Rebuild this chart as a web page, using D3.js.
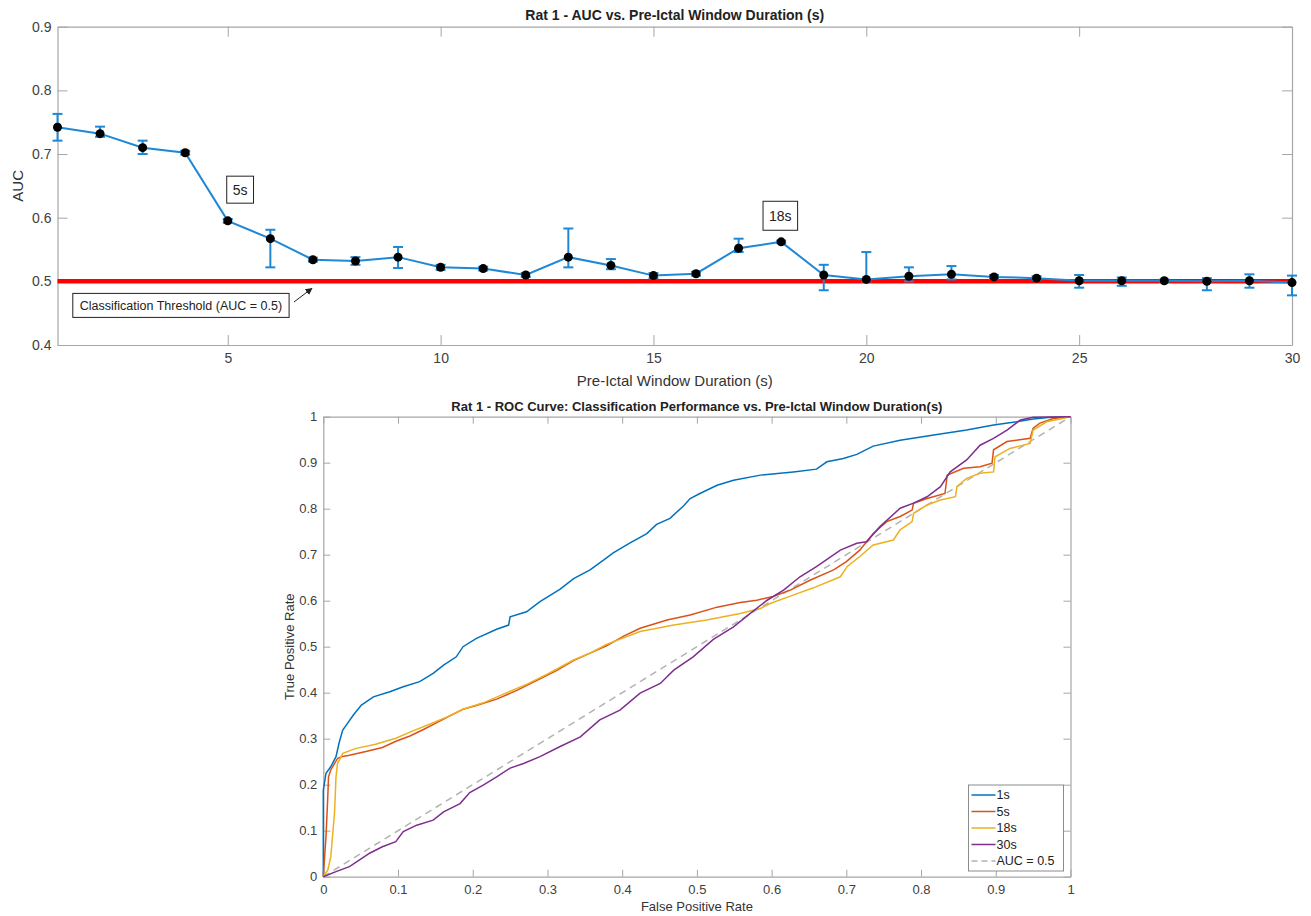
<!DOCTYPE html>
<html>
<head>
<meta charset="utf-8">
<script src="https://cdn.jsdelivr.net/npm/d3@7"></script>
<style>
  body { margin: 0; background: #fff; }
  text { font-family: "Liberation Sans", Arial, Helvetica, sans-serif; }
  .axis path, .axis line { stroke: #a6a6a6; }
  .axis text { fill: #404040; }
</style>
</head>
<body>
<div id="chart"></div>
<script>
// ---- top panel data: AUC per pre-ictal window ----
const windows = d3.range(1, 31);
const aucMean = [0.742, 0.732, 0.710, 0.702, 0.595, 0.567, 0.534, 0.532, 0.538, 0.522,
                 0.520, 0.510, 0.538, 0.525, 0.509, 0.512, 0.552, 0.562, 0.510, 0.503,
                 0.508, 0.511, 0.507, 0.505, 0.501, 0.501, 0.501, 0.500, 0.501, 0.498];
const aucLow  = [0.721, 0.727, 0.700, 0.699, 0.592, 0.522, 0.531, 0.526, 0.521, 0.518,
                 0.517, 0.507, 0.522, 0.519, 0.505, 0.509, 0.546, 0.560, 0.486, 0.500,
                 0.500, 0.503, 0.504, 0.502, 0.490, 0.493, 0.499, 0.486, 0.490, 0.478];
const aucHigh = [0.763, 0.743, 0.721, 0.705, 0.598, 0.581, 0.537, 0.538, 0.554, 0.526,
                 0.523, 0.513, 0.583, 0.535, 0.513, 0.515, 0.567, 0.564, 0.526, 0.546,
                 0.522, 0.524, 0.510, 0.508, 0.510, 0.506, 0.503, 0.505, 0.511, 0.509];
const topXTicks = [5, 10, 15, 20, 25, 30];
const topYTicks = [0.4, 0.5, 0.6, 0.7, 0.8, 0.9];
const threshold = 0.5;

// ---- bottom panel data: ROC curves [FPR, TPR] ----
const roc1s = [[0,0],[0,0.188],[0.0036,0.225],[0.01,0.239],[0.017,0.261],[0.021,0.29],[0.026,0.319],
  [0.031,0.33],[0.04,0.351],[0.051,0.373],[0.067,0.391],[0.089,0.402],[0.107,0.413],[0.129,0.424],
  [0.147,0.442],[0.161,0.46],[0.178,0.478],[0.187,0.5],[0.205,0.518],[0.232,0.538],[0.248,0.547],
  [0.25,0.565],[0.272,0.576],[0.29,0.598],[0.317,0.625],[0.335,0.648],[0.357,0.667],[0.375,0.688],
  [0.388,0.704],[0.41,0.725],[0.433,0.746],[0.446,0.766],[0.464,0.779],[0.482,0.806],[0.491,0.822],
  [0.504,0.833],[0.527,0.851],[0.549,0.862],[0.585,0.873],[0.629,0.880],[0.66,0.886],[0.674,0.902],
  [0.696,0.909],[0.714,0.918],[0.736,0.936],[0.772,0.949],[0.817,0.96],[0.861,0.971],[0.897,0.982],
  [0.928,0.989],[0.95,0.995],[0.97,0.998],[1,1]];
const roc5s = [[0,0],[0.0036,0.087],[0.006,0.174],[0.007,0.217],[0.01,0.232],[0.015,0.246],[0.019,0.257],
  [0.024,0.261],[0.035,0.264],[0.057,0.272],[0.079,0.281],[0.098,0.295],[0.116,0.306],[0.134,0.32],
  [0.152,0.335],[0.17,0.35],[0.187,0.364],[0.205,0.372],[0.232,0.386],[0.259,0.405],[0.29,0.43],
  [0.312,0.448],[0.335,0.47],[0.357,0.486],[0.379,0.502],[0.402,0.523],[0.424,0.54],[0.46,0.558],
  [0.491,0.569],[0.527,0.586],[0.558,0.596],[0.58,0.601],[0.602,0.609],[0.625,0.623],[0.652,0.645],
  [0.683,0.667],[0.7,0.685],[0.718,0.71],[0.736,0.746],[0.754,0.772],[0.772,0.783],[0.788,0.797],
  [0.79,0.812],[0.808,0.822],[0.832,0.833],[0.835,0.873],[0.857,0.888],[0.879,0.891],[0.895,0.899],
  [0.897,0.928],[0.915,0.946],[0.946,0.953],[0.95,0.975],[0.959,0.986],[0.977,0.996],[1,1]];
const roc18s = [[0,0],[0.006,0.014],[0.01,0.043],[0.015,0.138],[0.017,0.217],[0.019,0.246],[0.026,0.268],
  [0.044,0.279],[0.07,0.288],[0.097,0.301],[0.12,0.317],[0.143,0.332],[0.165,0.347],[0.187,0.364],
  [0.214,0.378],[0.241,0.397],[0.272,0.418],[0.299,0.44],[0.335,0.471],[0.357,0.486],[0.379,0.505],
  [0.424,0.533],[0.469,0.547],[0.513,0.558],[0.558,0.572],[0.585,0.583],[0.598,0.594],[0.625,0.610],
  [0.656,0.628],[0.692,0.652],[0.701,0.674],[0.718,0.696],[0.736,0.721],[0.763,0.732],[0.772,0.754],
  [0.788,0.772],[0.79,0.79],[0.808,0.808],[0.826,0.819],[0.846,0.826],[0.848,0.848],[0.861,0.866],
  [0.879,0.877],[0.897,0.88],[0.899,0.913],[0.919,0.931],[0.946,0.942],[0.95,0.971],[0.968,0.989],[1,1]];
const roc30s = [[0,0],[0.017,0.011],[0.035,0.022],[0.048,0.036],[0.062,0.051],[0.079,0.065],[0.097,0.076],
  [0.107,0.098],[0.125,0.112],[0.147,0.123],[0.161,0.141],[0.183,0.159],[0.196,0.183],[0.214,0.199],
  [0.232,0.217],[0.25,0.236],[0.268,0.246],[0.29,0.261],[0.317,0.283],[0.344,0.304],[0.37,0.341],
  [0.397,0.362],[0.424,0.399],[0.451,0.42],[0.469,0.449],[0.495,0.478],[0.522,0.516],[0.549,0.543],
  [0.571,0.572],[0.594,0.601],[0.616,0.623],[0.638,0.652],[0.66,0.674],[0.692,0.71],[0.714,0.725],
  [0.727,0.728],[0.745,0.761],[0.772,0.801],[0.79,0.812],[0.808,0.826],[0.826,0.848],[0.839,0.88],
  [0.861,0.906],[0.879,0.938],[0.897,0.953],[0.915,0.971],[0.933,0.993],[0.95,0.999],[1,1]];
const rocNames = ["1s", "5s", "18s", "30s"];
const rocColors = ["#0072BD", "#D95319", "#EDB120", "#7E2F8E"];
const rocTicks = [0, 0.1, 0.2, 0.3, 0.4, 0.5, 0.6, 0.7, 0.8, 0.9, 1];

const width = 1311, height = 916;
const svg = d3.select("#chart").append("svg")
    .attr("width", width)
    .attr("height", height);

svg.append("defs").append("marker")
    .attr("id", "arrow")
    .attr("viewBox", "0 0 10 10")
    .attr("refX", 9).attr("refY", 5)
    .attr("markerWidth", 7).attr("markerHeight", 7)
    .attr("orient", "auto")
  .append("path")
    .attr("d", "M0,0 L10,5 L0,10 z")
    .attr("fill", "#222");

// MATLAB-style boxed axes with inward ticks on all sides
function boxAxes(g, x, y, xTicks, yTicks, tick, fmtX, fmtY, fs) {
    const [x0, x1] = x.range(), [y0, y1] = y.range();
    g.append("g").attr("class", "axis").attr("transform", `translate(0,${y0})`)
        .call(d3.axisBottom(x).tickValues(xTicks).tickSize(-tick).tickSizeOuter(0).tickPadding(8).tickFormat(fmtX))
        .call(a => a.selectAll("text").style("font-size", fs + "px"));
    g.append("g").attr("class", "axis").attr("transform", `translate(0,${y1})`)
        .call(d3.axisTop(x).tickValues(xTicks).tickSize(-tick).tickSizeOuter(0).tickFormat(""));
    g.append("g").attr("class", "axis").attr("transform", `translate(${x0},0)`)
        .call(d3.axisLeft(y).tickValues(yTicks).tickSize(-tick).tickSizeOuter(0).tickPadding(6).tickFormat(fmtY))
        .call(a => a.selectAll("text").style("font-size", fs + "px"));
    g.append("g").attr("class", "axis").attr("transform", `translate(${x1},0)`)
        .call(d3.axisRight(y).tickValues(yTicks).tickSize(-tick).tickSizeOuter(0).tickFormat(""));
    g.selectAll(".axis path").attr("stroke-width", 1.2);
}

// ================= Top panel =================
const xTop = d3.scaleLinear().domain([1, 30]).range([57.5, 1292]);
const yTop = d3.scaleLinear().domain([0.4, 0.9]).range([345, 26.7]);
const topPanel = svg.append("g");

boxAxes(topPanel, xTop, yTop, topXTicks, topYTicks, 10, d3.format("d"), d3.format(".1f"), 14);

topPanel.append("text")
    .attr("x", (xTop.range()[0] + xTop.range()[1]) / 2)
    .attr("y", 20)
    .attr("text-anchor", "middle")
    .style("font-size", "14px").style("font-weight", "bold").attr("fill", "#222")
    .text("Rat 1 - AUC vs. Pre-Ictal Window Duration (s)");

topPanel.append("text")
    .attr("x", (xTop.range()[0] + xTop.range()[1]) / 2)
    .attr("y", 386)
    .attr("text-anchor", "middle")
    .style("font-size", "15px").attr("fill", "#333")
    .text("Pre-Ictal Window Duration (s)");

topPanel.append("text")
    .attr("transform", `translate(23, ${yTop(0.65)}) rotate(-90)`)
    .attr("text-anchor", "middle")
    .style("font-size", "15px").attr("fill", "#333")
    .text("AUC");

// threshold line
topPanel.append("line")
    .attr("x1", xTop(1)).attr("x2", xTop(30))
    .attr("y1", yTop(threshold)).attr("y2", yTop(threshold))
    .attr("stroke", "#ff0000").attr("stroke-width", 4.5);

const pts = windows.map((w, i) => ({ w, m: aucMean[i], lo: aucLow[i], hi: aucHigh[i] }));

topPanel.append("path")
    .datum(pts)
    .attr("fill", "none")
    .attr("stroke", "#1f88d6")
    .attr("stroke-width", 2)
    .attr("d", d3.line().x(d => xTop(d.w)).y(d => yTop(d.m)));

const eb = topPanel.selectAll(".eb").data(pts).enter().append("g")
    .attr("stroke", "#1f88d6").attr("stroke-width", 2);
eb.append("line")
    .attr("x1", d => xTop(d.w)).attr("x2", d => xTop(d.w))
    .attr("y1", d => yTop(d.lo)).attr("y2", d => yTop(d.hi));
eb.append("line")
    .attr("x1", d => xTop(d.w) - 5).attr("x2", d => xTop(d.w) + 5)
    .attr("y1", d => yTop(d.lo)).attr("y2", d => yTop(d.lo));
eb.append("line")
    .attr("x1", d => xTop(d.w) - 5).attr("x2", d => xTop(d.w) + 5)
    .attr("y1", d => yTop(d.hi)).attr("y2", d => yTop(d.hi));

topPanel.selectAll(".pt").data(pts).enter().append("circle")
    .attr("cx", d => xTop(d.w)).attr("cy", d => yTop(d.m))
    .attr("r", 4.5).attr("fill", "#000");

// annotation boxes
function labelBox(g, cx, cy, txt, fs, padX, h) {
    const t = g.append("text")
        .attr("x", cx).attr("y", cy).attr("dy", "0.35em")
        .attr("text-anchor", "middle")
        .style("font-size", fs + "px").attr("fill", "#222")
        .text(txt);
    const w = t.node().getComputedTextLength() + padX * 2;
    g.insert("rect", "text")
        .attr("x", cx - w / 2).attr("y", cy - h / 2)
        .attr("width", w).attr("height", h)
        .attr("fill", "#fff").attr("stroke", "#222").attr("stroke-width", 1);
}
const ann = topPanel.append("g");
labelBox(ann, xTop(5.29), yTop(0.644), "5s", 14, 6, 27);
labelBox(ann, xTop(17.98), yTop(0.603), "18s", 14, 6, 29);
labelBox(ann, xTop(3.9), yTop(0.4622), "Classification Threshold (AUC = 0.5)", 12.5, 7, 24);

topPanel.append("line")
    .attr("x1", 294).attr("y1", 302)
    .attr("x2", xTop(7.0) - 1).attr("y2", yTop(0.5) + 7)
    .attr("stroke", "#222").attr("stroke-width", 1)
    .attr("marker-end", "url(#arrow)");

// ================= Bottom panel =================
const xRoc = d3.scaleLinear().domain([0, 1]).range([323.3, 1070.5]);
const yRoc = d3.scaleLinear().domain([0, 1]).range([876.7, 416.7]);
const botPanel = svg.append("g");

const fmtRoc = d => (d === 0 || d === 1) ? d3.format("d")(d) : d3.format(".1f")(d);
boxAxes(botPanel, xRoc, yRoc, rocTicks, rocTicks, 7, fmtRoc, fmtRoc, 13);

botPanel.append("text")
    .attr("x", (xRoc.range()[0] + xRoc.range()[1]) / 2)
    .attr("y", 411)
    .attr("text-anchor", "middle")
    .style("font-size", "13px").style("font-weight", "bold").attr("fill", "#222")
    .text("Rat 1 - ROC Curve: Classification Performance vs. Pre-Ictal Window Duration(s)");

botPanel.append("text")
    .attr("x", (xRoc.range()[0] + xRoc.range()[1]) / 2)
    .attr("y", 911)
    .attr("text-anchor", "middle")
    .style("font-size", "13px").attr("fill", "#333")
    .text("False Positive Rate");

botPanel.append("text")
    .attr("transform", `translate(294, ${yRoc(0.5)}) rotate(-90)`)
    .attr("text-anchor", "middle")
    .style("font-size", "13px").attr("fill", "#333")
    .text("True Positive Rate");

const rocLine = d3.line().x(d => xRoc(d[0])).y(d => yRoc(d[1]));

// chance diagonal
botPanel.append("path")
    .datum([[0, 0], [1, 1]])
    .attr("fill", "none")
    .attr("stroke", "#b3b3b3").attr("stroke-width", 1.5)
    .attr("stroke-dasharray", "7,5")
    .attr("d", rocLine);

const rocData = [roc1s, roc5s, roc18s, roc30s];
botPanel.selectAll(".roc").data(rocData).enter().append("path")
    .attr("fill", "none")
    .attr("stroke", (d, i) => rocColors[i])
    .attr("stroke-width", 1.5)
    .attr("d", rocLine);

// legend
const legItems = rocNames.map((n, i) => ({ name: n, color: rocColors[i], dash: null }))
    .concat([{ name: "AUC = 0.5", color: "#b3b3b3", dash: "6,4" }]);
const leg = botPanel.append("g").attr("transform", "translate(968.5, 785)");
leg.append("rect")
    .attr("width", 95).attr("height", 86)
    .attr("fill", "#fff").attr("stroke", "#8c8c8c").attr("stroke-width", 1);
const li = leg.selectAll(".li").data(legItems).enter().append("g")
    .attr("transform", (d, i) => `translate(0, ${10 + i * 16.5})`);
li.append("line")
    .attr("x1", 3).attr("x2", 27).attr("y1", 0).attr("y2", 0)
    .attr("stroke", d => d.color).attr("stroke-width", 1.5)
    .attr("stroke-dasharray", d => d.dash);
li.append("text")
    .attr("x", 28).attr("y", 0).attr("dy", "0.35em")
    .style("font-size", "12.5px").attr("fill", "#222")
    .text(d => d.name);
</script>
</body>
</html>
